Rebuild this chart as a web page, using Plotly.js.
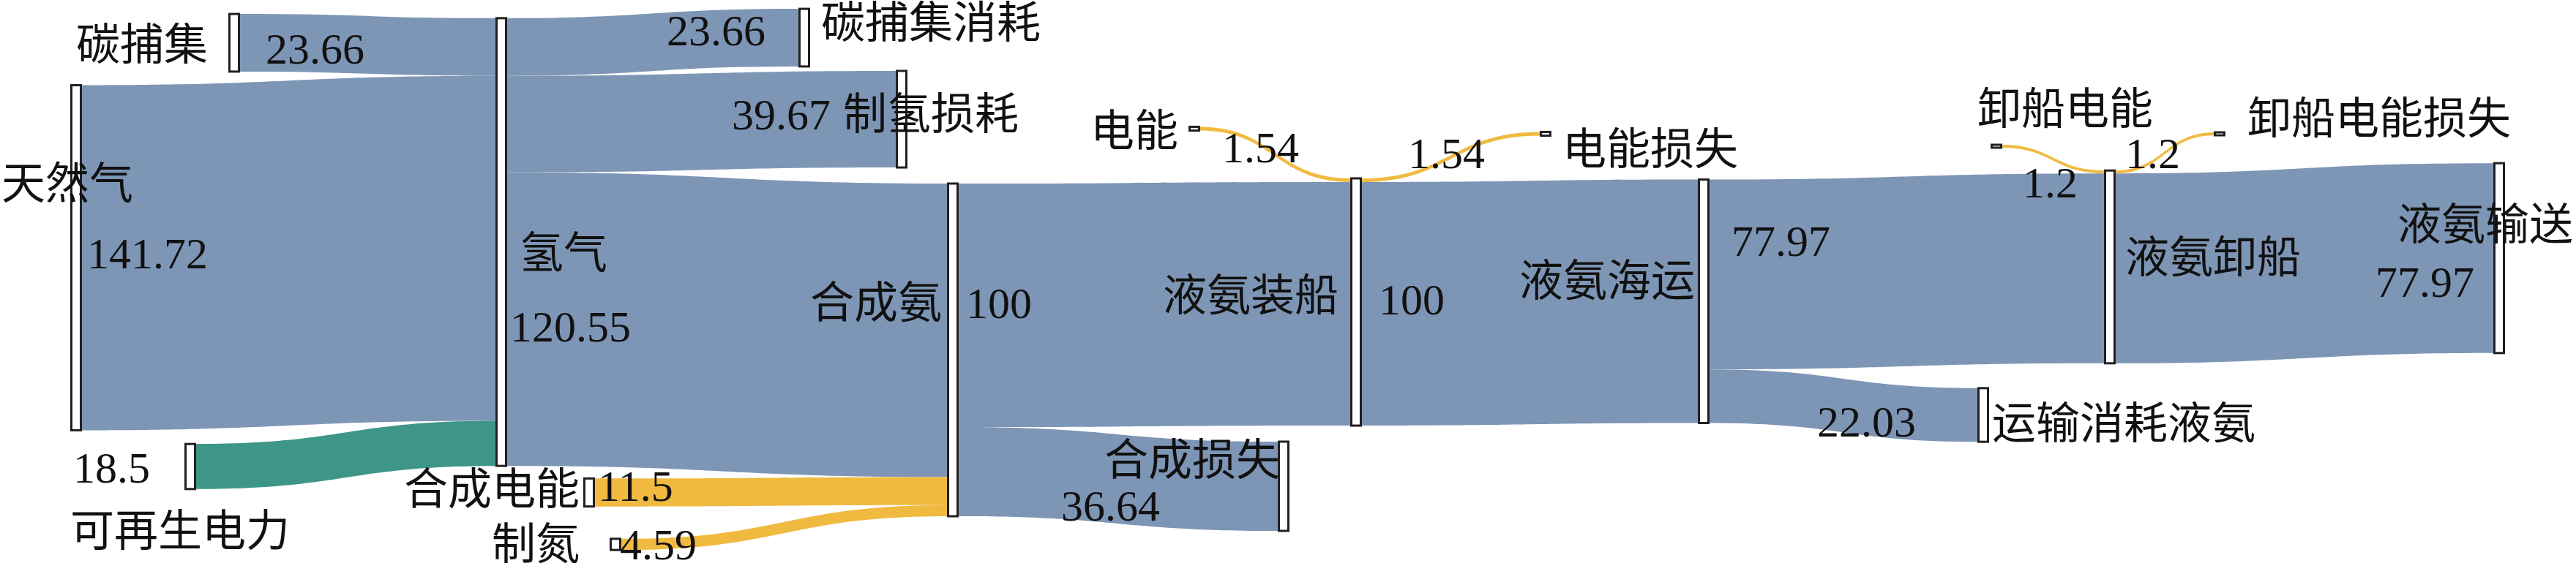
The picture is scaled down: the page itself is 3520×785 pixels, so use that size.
<!DOCTYPE html>
<html><head><meta charset="utf-8">
<script src="https://cdn.plot.ly/plotly-3.0.1.min.js"></script>
<style>html,body{margin:0;padding:0;background:#fff}#chart{width:3520px;height:785px}</style>
</head><body><div id="chart"></div>
<script>
// ---------- data ----------
const nodeNames = ['天然气','碳捕集','可再生电力','氢气','碳捕集消耗','制氢损耗','合成电能','制氮','合成氨','合成损失','电能','液氨装船','电能损失','液氨海运','运输消耗液氨','卸船电能','液氨卸船','卸船电能损失','液氨输送'];
const linkFrom  = ['碳捕集','天然气','可再生电力','氢气','氢气','氢气','合成电能','制氮','合成氨','合成氨','电能','液氨装船','液氨装船','液氨海运','液氨海运','卸船电能','液氨卸船','液氨卸船'];
const linkTo    = ['氢气','氢气','氢气','碳捕集消耗','制氢损耗','合成氨','合成氨','合成氨','液氨装船','合成损失','液氨装船','电能损失','液氨海运','液氨卸船','运输消耗液氨','液氨卸船','卸船电能损失','液氨输送'];
const linkValue = [23.66,141.72,18.5,23.66,39.67,120.55,11.5,4.59,100,36.64,1.54,1.54,100,77.97,22.03,1.2,1.2,77.97];
const linkKind  = ['物料','物料','绿电','物料','物料','物料','电能','电能','物料','物料','电能','电能','物料','物料','物料','电能','电能','物料'];

// ---------- layout (pixels in the 3520x785 figure) ----------
const W = 3520, H = 785, TOP = 25, BOT = 25, PLOTH = H - TOP - BOT;
const nodeCx = [104,320,260,685,1099,1232,805,841,1302,1754,1632,1853,2112,2328,2710,2728,2883,3033,3415];
const nodeCy = [352.5,58.5,638,331,51.5,163,673.5,744.5,478.5,665,176,413,183,412,567.5,200,365,183,353];
const nodeLabelPos = [[0,252,'left'],[286,62,'right'],[94,727,'left'],[708,347,'left'],[1120,32,'left'],[1150,157,'left'],
  [794,670,'right'],[794,745,'right'],[1289,415,'right'],[1751,630,'right'],[1612,180,'right'],[1831,405,'right'],
  [2133,205,'left'],[2318,385,'right'],[2720,580,'left'],[2822,150,'center'],[2902,353,'left'],[3069,163,'left'],[3518,308,'right']];
const linkLabelPos = [[361,67,'left'],[117,347,'left'],[207,640,'right'],[1048,42,'right'],[998,157,'left'],[695,447,'left'],
  [815,665,'left'],[845,745,'left'],[1318,415,'left'],[1448,692,'left'],[1668,202,'left'],[1922,210,'left'],
  [1882,410,'left'],[2364,330,'left'],[2481,577,'left'],[2762,250,'left'],[2902,210,'left'],[3383,386,'right']];
const kindColor = {'物料':'rgb(126,150,182)','绿电':'rgb(62,150,136)','电能':'rgb(240,186,64)'};
const FONT = {family:'"Liberation Serif","Noto Sans CJK SC",serif', size:60, color:'#111'};

const idx = n => nodeNames.indexOf(n);
const trace = {
  type:'sankey', arrangement:'fixed', orientation:'h',
  domain:{x:[0,1], y:[BOT/H, 1-TOP/H]},
  node:{
    label: nodeNames.map(()=>''),
    customdata: nodeNames,
    hovertemplate:'%{customdata}<extra></extra>',
    x: nodeCx.map(v=>v/W),
    y: nodeCy.map(v=>(v-TOP)/PLOTH),
    pad:10, thickness:13,
    color:'#ffffff',
    line:{color:'#231f20', width:3}
  },
  link:{
    source: linkFrom.map(idx),
    target: linkTo.map(idx),
    value: linkValue,
    color: linkKind.map(k=>kindColor[k]),
    line:{width:0}
  }
};

const annotations = [];
nodeNames.forEach((n,i)=>{
  const p = nodeLabelPos[i];
  annotations.push({text:n, x:p[0]/W, y:1-p[1]/H, xref:'paper', yref:'paper', xanchor:p[2], yanchor:'middle', showarrow:false, font:FONT});
});
linkValue.forEach((v,i)=>{
  const p = linkLabelPos[i];
  annotations.push({text:String(v), x:p[0]/W, y:1-p[1]/H, xref:'paper', yref:'paper', xanchor:p[2], yanchor:'middle', showarrow:false, font:FONT});
});

Plotly.newPlot('chart',[trace],{
  width:W, height:H, margin:{l:0,r:0,t:0,b:0},
  paper_bgcolor:'#fff', plot_bgcolor:'#fff',
  font:FONT, annotations:annotations, showlegend:false
},{displayModeBar:false, staticPlot:true});
</script></body></html>
